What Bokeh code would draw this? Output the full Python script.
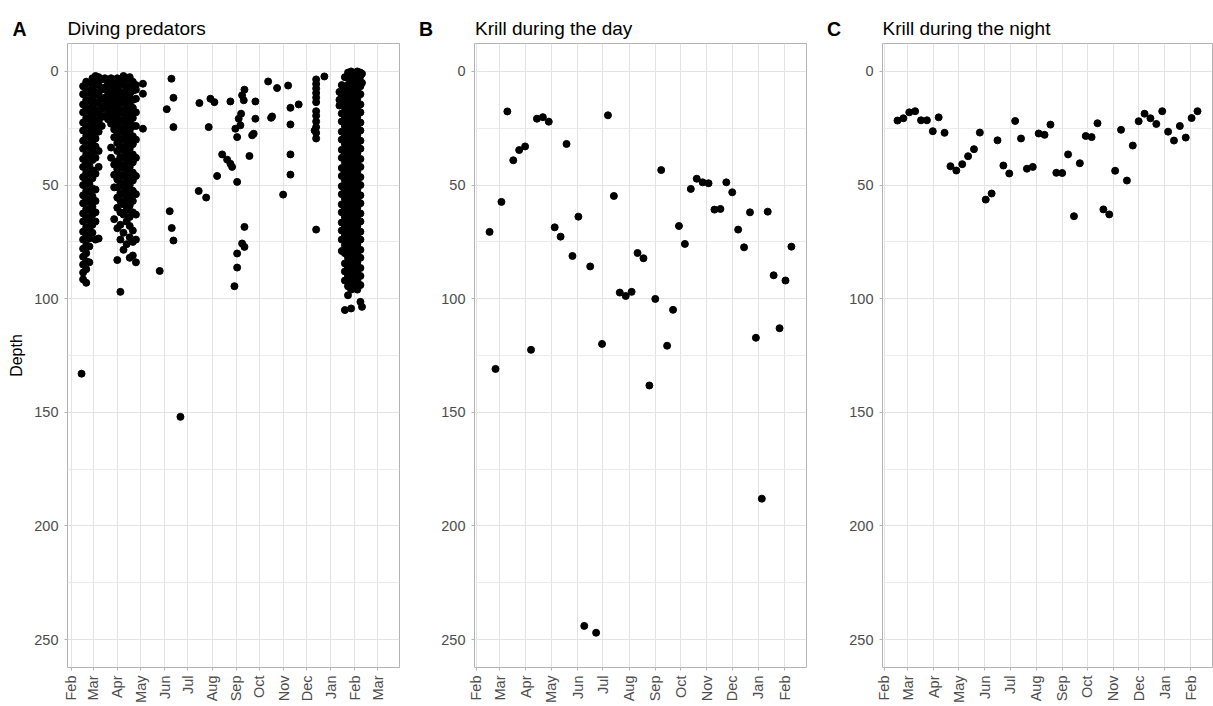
import math
import pandas as pd
from bokeh.plotting import figure
from bokeh.layouts import row, column
from bokeh.models import Range1d, FixedTicker, DatetimeTickFormatter, ColumnDataSource
from bokeh.core.properties import value
from bokeh.embed import file_html
from bokeh.resources import INLINE

ORIGIN = pd.Timestamp("2019-02-01")

# ---------------- data ----------------
# Panel A: isolated predator dives (days after 1 Feb 2019, depth in m)
pred_days = [13, 92, 92, 92, 113.6, 122.7, 128.7, 131.3, 131.3, 126.5, 129.1, 131.3, 140.3,
             163.8, 164.7, 173.4, 176.7, 178.9, 184, 187.5,
             194, 200.4, 204.6, 206.8, 204.6,
             209.8, 211, 213.3, 213.3, 213.3, 213.3, 215.3, 217.5, 218.4, 219.7, 219.7, 221.8,
             222.7, 222.7, 222.7, 229.1, 232.6, 234.6, 236.8, 236.8,
             253.2, 257, 258.3, 264.7, 272.5, 278.9, 281.9, 281.9, 281.9, 281.9, 292.5,
             315, 315, 315, 315, 315, 315, 315, 315, 315, 315, 315, 315, 313, 315, 325.6]
pred_depths = [133, 5.4, 9.8, 25.2, 87.8, 16.6, 3.2, 11.6, 24.5, 61.5, 68.9, 74.4, 152,
               52.6, 13.9, 55.5, 24.5, 12, 13.5, 46,
               36.5, 38.8, 40.6, 42, 13.2,
               94.5, 25.2, 28.9, 48.6, 80.1, 86.3, 20.8, 23.7, 18.6, 10.5, 75.7, 12.7,
               8.0, 68.4, 77.2, 37.2, 28.1, 27.4, 13.2, 20.8,
               4.4, 20.4, 19.8, 7.3, 54.2, 6.2, 16, 23.3, 36.5, 45.4, 14.5,
               3.5, 5.5, 7.5, 9.5, 11.5, 13.5, 17.5, 19.5, 22, 24.5, 27, 29.5, 26, 69.6, 2.2]

# Panel A: densely sampled dive days (day after 1 Feb 2019 -> depths recorded that day)
pred_col_days = [15, 19, 23, 27, 31, 35, 39,
                 43, 47, 51, 55, 59, 63, 67, 71, 75, 79, 83,
                 345, 348, 352, 356, 360, 364, 368, 372, 374]
pred_col_depths = [
    [6.5, 10, 14.5, 18, 22.5, 26, 30.5, 34, 38.5, 42, 46.5, 50, 54.5, 58, 62.5, 66, 70.5, 74, 78, 81.5, 85, 88.5, 91.5],
    [4.5, 8, 12.5, 16, 20.5, 24, 28.5, 32, 36.5, 40, 44.5, 48, 52.5, 56, 60.5, 64, 68.5, 72, 76.5, 80, 83.5, 87, 93],
    [5, 9.5, 13, 17.5, 21, 25.5, 29, 33.5, 37, 41.5, 45, 49.5, 53, 57.5, 61, 65.5, 69, 73.5, 77, 84],
    [3, 7, 11.5, 15, 19.5, 23, 27.5, 31, 35.5, 39, 43.5, 47, 51.5, 55, 59.5, 63, 67.5, 71],
    [2, 5, 9, 13.5, 17, 21.5, 25, 29.5, 33, 38, 45, 52, 57, 62, 66, 74],
    [2.5, 6, 10.5, 14, 18.5, 22, 26.5, 35, 42, 73.5],
    [3.5, 8, 12, 16.5, 20, 24],
    [3, 7, 11.5, 15, 19.5],
    [5, 9, 13.5, 17, 21],
    [3, 7.5, 11, 15.5, 19, 23, 33.5, 38],
    [5, 9, 13, 17.5, 21, 25.5, 29, 41, 45.5, 51, 65],
    [3, 7, 11, 15.5, 19, 23.5, 27, 31.5, 35, 39.5, 43, 47.5, 51, 55.5, 60, 69, 83],
    [4.5, 9, 13, 17, 21.5, 25, 29.5, 33, 37.5, 41, 45.5, 49, 53.5, 57, 62, 67.5, 74, 97],
    [2, 6, 10.5, 14, 18.5, 22, 26.5, 30, 34.5, 38, 42.5, 46, 50.5, 54, 58.5, 63, 71, 78.5],
    [3.5, 8, 12, 16.5, 20, 24.5, 28, 32.5, 36, 40.5, 44, 48.5, 52, 56.5, 61, 66, 76],
    [2.5, 6.5, 10, 14.5, 18, 22.5, 26, 30.5, 34, 38.5, 42, 46.5, 50, 54.5, 59, 64, 68, 73, 82],
    [4.5, 8.5, 12.5, 16, 20.5, 24, 28.5, 32, 36.5, 40, 44.5, 48, 52.5, 57, 62, 70, 75, 81],
    [6, 8, 12, 18, 24, 30, 38, 46, 54, 63, 74, 84],
    [9, 12.5, 15],
    [6, 10, 14, 18.5, 22, 26.5, 30, 34.5, 38, 42.5, 46, 50.5, 54, 58.5, 62, 66.5, 70, 74, 79],
    [2.5, 8, 12, 16, 20.5, 24, 28.5, 32, 36.5, 40, 44.5, 48, 52.5, 56, 60.5, 64, 68.5, 72, 76.5, 80, 84.5, 88, 92, 105],
    [0.5, 3, 6, 10, 14.5, 18, 22.5, 26, 30.5, 34, 38.5, 42, 46.5, 50, 54.5, 58, 62.5, 66, 70.5, 74, 78.5, 82, 86.5, 90, 94.5, 98.5],
    [0, 4, 8, 12.5, 16, 20.5, 24, 28.5, 32, 36.5, 40, 44.5, 48, 52.5, 56, 60.5, 64, 68.5, 72, 76.5, 80, 84.5, 88, 92.5, 96, 104.3],
    [1, 2.5, 6, 10.5, 14, 18.5, 22, 26.5, 30, 34.5, 38, 42.5, 46, 50.5, 54, 58.5, 62, 66.5, 70, 74.5, 78, 82.5, 86, 90.5, 94],
    [0, 4, 8.5, 12, 16.5, 20, 24.5, 28, 32.5, 36, 40.5, 44, 48.5, 52, 56.5, 60, 64.5, 68, 72.5, 76, 80.5, 84, 88.5, 92, 96],
    [0.5, 2, 6.5, 10, 14.5, 18, 22.5, 26, 30.5, 34, 38.5, 42, 46.5, 50, 54.5, 58, 62.5, 66, 70.5, 74, 78.5, 82, 86.5, 90, 94, 101.4],
    [1, 5, 103.6],
]

# Panels B and C: weekly krill samples
krill_dates = ["2019-02-17", "2019-02-24", "2019-03-03", "2019-03-10", "2019-03-17", "2019-03-24",
               "2019-03-31", "2019-04-07", "2019-04-14", "2019-04-21", "2019-04-28", "2019-05-05",
               "2019-05-12", "2019-05-19", "2019-05-26", "2019-06-02", "2019-06-09", "2019-06-16",
               "2019-06-23", "2019-06-30", "2019-07-07", "2019-07-14", "2019-07-21", "2019-07-28",
               "2019-08-04", "2019-08-11", "2019-08-18", "2019-08-25", "2019-09-01", "2019-09-08",
               "2019-09-15", "2019-09-22", "2019-09-29", "2019-10-06", "2019-10-13", "2019-10-20",
               "2019-10-27", "2019-11-03", "2019-11-10", "2019-11-17", "2019-11-24", "2019-12-01",
               "2019-12-08", "2019-12-15", "2019-12-22", "2019-12-29", "2020-01-05", "2020-01-12",
               "2020-01-19", "2020-01-26", "2020-02-02", "2020-02-09"]
krill_day_depth = [70.6, 130.9, 57.4, 17.6, 39.1, 34.6, 33.0, 122.5, 20.8, 20.1,
                   22.1, 68.6, 72.7, 31.9, 81.2, 63.9, 244.0, 85.8, 247.0, 119.9,
                   19.3, 54.8, 97.3, 98.8, 97.0, 79.9, 82.2, 138.2, 100.1, 43.4,
                   120.7, 104.9, 68.0, 75.9, 51.7, 47.2, 48.8, 49.2, 60.8, 60.5,
                   48.8, 53.2, 69.6, 77.4, 62.0, 117.2, 188.0, 61.7, 89.7, 113.0,
                   92.0, 77.1]
krill_night_depth = [21.6, 20.6, 18.0, 17.5, 21.5, 21.5, 26.3, 20.2, 27.0, 41.7,
                     43.6, 40.8, 37.3, 34.2, 26.9, 56.4, 53.7, 30.3, 41.4, 44.9,
                     21.8, 29.5, 42.8, 42.0, 27.3, 27.9, 23.4, 44.6, 44.7, 36.5,
                     63.7, 40.4, 28.4, 28.9, 22.8, 60.7, 62.9, 43.7, 25.7, 48.0,
                     32.6, 21.9, 18.6, 20.6, 23.1, 17.5, 26.5, 30.4, 24.0, 29.1,
                     20.5, 17.5]

pred_month_ticks = ["2019-02-01", "2019-03-01", "2019-04-01", "2019-05-01", "2019-06-01",
                    "2019-07-01", "2019-08-01", "2019-09-01", "2019-10-01", "2019-11-01",
                    "2019-12-01", "2020-01-01", "2020-02-01", "2020-03-01"]
krill_month_ticks = pred_month_ticks[:-1]
depth_ticks = [0, 50, 100, 150, 200, 250]
depth_minor_ticks = [25, 75, 125, 175, 225]

titles = ["Diving predators", "Krill during the day", "Krill during the night"]
tags = ["A", "B", "C"]

# ---------------- build ----------------
def ms(ts):
    return pd.Timestamp(ts).value / 1e6


def day_to_time(d):
    return ORIGIN + pd.to_timedelta(d, unit="D")


FONT = "Liberation Sans"
HEADER_H = 41
H = 664
TOP = 2
BOTTOM = 37
TICK_FS = "14.5px"


def make_panel(width, b_left, b_right, x_start_day, x_end_day, month_ticks, xs, ys):
    p = figure(width=width, height=H, x_axis_type="datetime",
               x_range=Range1d(ms(day_to_time(x_start_day)), ms(day_to_time(x_end_day))),
               y_range=Range1d(262.3, -12.3),
               output_backend="svg", toolbar_location=None,
               min_border_left=b_left, min_border_right=b_right,
               min_border_top=TOP, min_border_bottom=BOTTOM)
    p.background_fill_color = "white"
    p.border_fill_color = "white"
    p.outline_line_color = "#B3B3B3"
    p.outline_line_width = 1

    xt = FixedTicker(ticks=[ms(t) for t in month_ticks])
    yt = FixedTicker(ticks=depth_ticks, minor_ticks=depth_minor_ticks)
    p.xaxis.ticker = xt
    p.yaxis.ticker = yt
    p.xgrid.ticker = xt
    p.ygrid.ticker = yt
    p.xaxis.formatter = DatetimeTickFormatter(days="%b", months="%b", years="%b",
                                              hours="%b", hourmin="%b")
    p.xaxis.major_label_orientation = math.pi / 2

    p.xgrid.grid_line_color = "#E3E3E3"
    p.ygrid.grid_line_color = "#E3E3E3"
    p.ygrid.minor_grid_line_color = "#EBEBEB"

    for ax in (p.xaxis[0], p.yaxis[0]):
        ax.axis_line_color = None
        ax.major_tick_line_color = "#B3B3B3"
        ax.major_tick_out = 3
        ax.major_tick_in = 0
        ax.minor_tick_line_color = None
        ax.major_label_text_font = FONT
        ax.major_label_text_font_size = TICK_FS
        ax.major_label_text_color = "#4D4D4D"
    p.xaxis.major_label_standoff = 5
    p.yaxis.major_label_standoff = 5

    src = ColumnDataSource(dict(x=xs, y=ys))
    p.scatter(x="x", y="y", source=src, size=7, color="black")
    return p


# panel A data
a_days = list(pred_days)
a_depths = list(pred_depths)
for d, deps in zip(pred_col_days, pred_col_depths):
    a_days += [d] * len(deps)
    a_depths += deps
a_x = [day_to_time(d) for d in a_days]

k_x = pd.to_datetime(krill_dates)

p1 = make_panel(404, 67, 5, -5.1, 422.3, pred_month_ticks, a_x, a_depths)
p1.yaxis.axis_label = "Depth"
p1.yaxis.axis_label_text_font = FONT
p1.yaxis.axis_label_text_font_size = "16px"
p1.yaxis.axis_label_text_font_style = "normal"
p1.yaxis.axis_label_text_color = "black"
p1.yaxis.axis_label_standoff = 6

p2 = make_panel(408, 70, 6, -1.85, 390.85, krill_month_ticks, k_x, krill_day_depth)
p3 = make_panel(401, 70, 1, -1.85, 390.85, krill_month_ticks, k_x, krill_night_depth)

# header strip with panel tags and titles (x in page pixels, y from the strip's bottom)
hdr = figure(width=1213, height=HEADER_H, x_range=Range1d(0, 1213), y_range=Range1d(0, HEADER_H),
             output_backend="svg", toolbar_location=None,
             x_axis_location=None, y_axis_location=None,
             min_border_left=0, min_border_right=0, min_border_top=0, min_border_bottom=0)
hdr.outline_line_color = None
hdr.background_fill_color = "white"
hdr.border_fill_color = "white"
hdr.grid.visible = False
tag_x = [12, 418.5, 826.5]
title_x = [67, 474.5, 882]
base_y = HEADER_H - 28.3
hdr.text(x=tag_x, y=[base_y] * 3, text=tags, text_font=value(FONT), text_font_style="bold",
         text_font_size="19.5px", text_color="black", text_baseline="alphabetic", text_align="left")
hdr.text(x=title_x, y=[base_y] * 3, text=titles, text_font=value(FONT), text_font_style="normal",
         text_font_size="19px", text_color="black", text_baseline="alphabetic", text_align="left")

layout = column(hdr, row(p1, p2, p3))
open("out.html", "w").write(file_html(layout, INLINE))
